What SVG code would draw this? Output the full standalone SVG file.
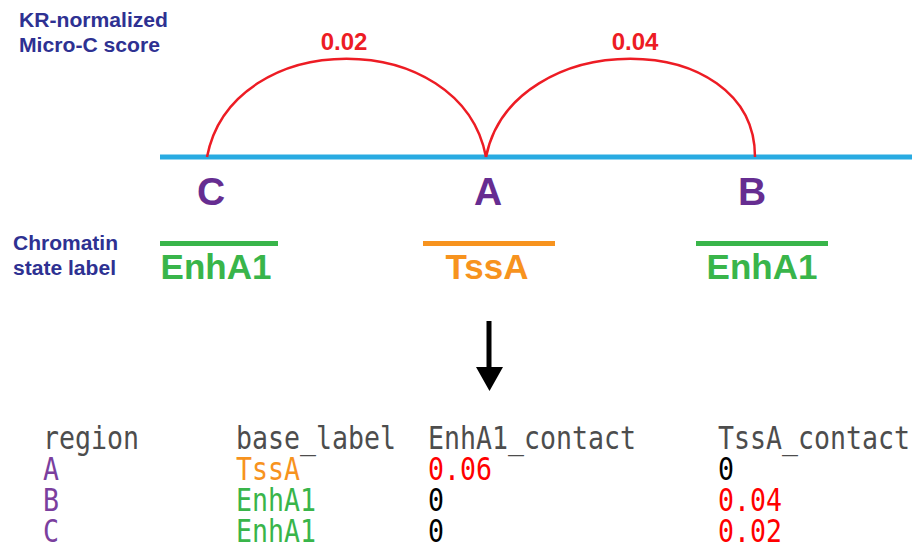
<svg xmlns="http://www.w3.org/2000/svg" width="912" height="548" viewBox="0 0 912 548">
<defs>
<style>
.sans{font-family:"Liberation Sans",Arial,sans-serif;font-weight:bold}
.note{fill:#2e3192;font-size:20px}
.score{fill:#ed1c24;font-size:24px}
.region{fill:#662d91;font-size:39px}
.state{font-size:35px}
.mono{font-family:"DejaVu Sans Mono",monospace;font-size:32px}
.hdr{fill:#4d4d4d}
.pur{fill:#7b3f9e}
.org{fill:#f7931e}
.grn{fill:#39b54a}
.red{fill:#ff0000}
.blk{fill:#000000}
.arc{fill:none;stroke:#ed1c24;stroke-width:2.5}
</style>
<marker id="ah" markerUnits="userSpaceOnUse" markerWidth="28" markerHeight="24" refX="14" refY="24" orient="auto-start-reverse" viewBox="0 0 28 24">
<path d="M0,0 L28,0 L14,24 Z" fill="#000"/>
</marker>
</defs>
<rect width="912" height="548" fill="#ffffff"/>
<g id="legend">
<text class="sans note" x="19" y="27" textLength="149" lengthAdjust="spacingAndGlyphs">KR-normalized</text>
<text class="sans note" x="19" y="52" textLength="141" lengthAdjust="spacingAndGlyphs">Micro-C score</text>
<text class="sans note" x="13" y="250" textLength="105" lengthAdjust="spacingAndGlyphs">Chromatin</text>
<text class="sans note" x="13" y="275" textLength="103" lengthAdjust="spacingAndGlyphs">state label</text>
</g>
<g id="chromosome">
<line x1="160" y1="157" x2="912" y2="157" stroke="#29abe2" stroke-width="5"/>
</g>
<g id="connectors">
<path class="arc" d="M207,157 C232,26 461,26 486,157"/>
<path class="arc" d="M486,157 C512,26 755,26 755,157"/>
<text class="sans score" x="344" y="50" text-anchor="middle">0.02</text>
<text class="sans score" x="635" y="50" text-anchor="middle">0.04</text>
<line x1="489" y1="321" x2="489" y2="370" stroke="#000" stroke-width="5"/>
<path d="M476,367 L503,367 L489.5,391 Z" fill="#000"/>
</g>
<g id="region-C">
<text class="sans region" x="211" y="205" text-anchor="middle">C</text>
<rect x="160" y="241" width="118" height="5" fill="#39b54a"/>
<text class="sans state grn" x="216" y="279" text-anchor="middle">EnhA1</text>
</g>
<g id="region-A">
<text class="sans region" x="488" y="205" text-anchor="middle">A</text>
<rect x="423" y="241" width="132" height="5" fill="#f7931e"/>
<text class="sans state org" x="487" y="279" text-anchor="middle">TssA</text>
</g>
<g id="region-B">
<text class="sans region" x="752" y="205" text-anchor="middle">B</text>
<rect x="696" y="241" width="132" height="5" fill="#39b54a"/>
<text class="sans state grn" x="762" y="279" text-anchor="middle">EnhA1</text>
</g>
<g id="table" class="mono">
<text class="hdr" x="43" y="449" textLength="96" lengthAdjust="spacingAndGlyphs">region</text>
<text class="hdr" x="236" y="449" textLength="160" lengthAdjust="spacingAndGlyphs">base_label</text>
<text class="hdr" x="428" y="449" textLength="208" lengthAdjust="spacingAndGlyphs">EnhA1_contact</text>
<text class="hdr" x="718" y="449" textLength="192" lengthAdjust="spacingAndGlyphs">TssA_contact</text>
<text class="pur" x="43" y="480" textLength="16" lengthAdjust="spacingAndGlyphs">A</text>
<text class="org" x="236" y="480" textLength="64" lengthAdjust="spacingAndGlyphs">TssA</text>
<text class="red" x="428" y="480" textLength="64" lengthAdjust="spacingAndGlyphs">0.06</text>
<text class="blk" x="718" y="480" textLength="16" lengthAdjust="spacingAndGlyphs">0</text>
<text class="pur" x="43" y="511" textLength="16" lengthAdjust="spacingAndGlyphs">B</text>
<text class="grn" x="236" y="511" textLength="80" lengthAdjust="spacingAndGlyphs">EnhA1</text>
<text class="blk" x="428" y="511" textLength="16" lengthAdjust="spacingAndGlyphs">0</text>
<text class="red" x="718" y="511" textLength="64" lengthAdjust="spacingAndGlyphs">0.04</text>
<text class="pur" x="43" y="542" textLength="16" lengthAdjust="spacingAndGlyphs">C</text>
<text class="grn" x="236" y="542" textLength="80" lengthAdjust="spacingAndGlyphs">EnhA1</text>
<text class="blk" x="428" y="542" textLength="16" lengthAdjust="spacingAndGlyphs">0</text>
<text class="red" x="718" y="542" textLength="64" lengthAdjust="spacingAndGlyphs">0.02</text>
</g>
</svg>
